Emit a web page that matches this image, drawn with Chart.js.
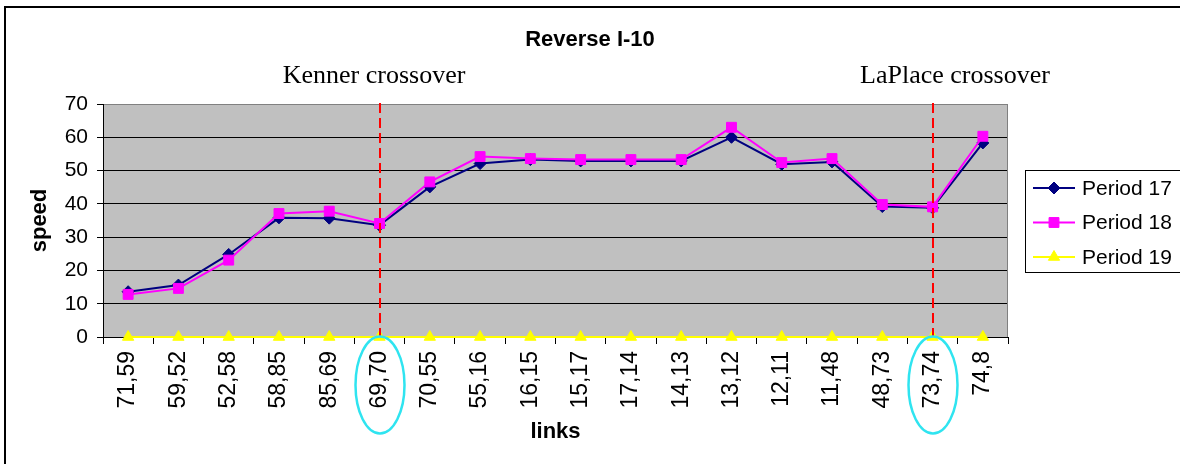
<!DOCTYPE html>
<html>
<head>
<meta charset="utf-8">
<script src="https://cdn.jsdelivr.net/npm/chart.js@4.4.1/dist/chart.umd.min.js"></script>
<style>
  html, body { margin: 0; padding: 0; background: #fff; }
  canvas { display: block; }
</style>
</head>
<body>
<canvas id="chart" width="1180" height="464"></canvas>
<script>
const links = [
  "71,59", "59,52", "52,58", "58,85", "85,69", "69,70", "70,55", "55,16", "16,15",
  "15,17", "17,14", "14,13", "13,12", "12,11", "11,48", "48,73", "73,74", "74,8"
];
const period17 = [13.6, 15.6, 24.8, 35.8, 35.7, 33.6, 45.1, 52.1, 53.3, 52.9, 52.9, 52.9, 60.0, 51.9, 52.6, 39.2, 38.8, 58.3];
const period18 = [12.8, 14.6, 23.1, 37.1, 37.8, 34.1, 46.6, 54.2, 53.6, 53.3, 53.3, 53.3, 63.0, 52.4, 53.6, 39.8, 39.1, 60.3];
const period19 = [0, 0, 0, 0, 0, 0, 0, 0, 0, 0, 0, 0, 0, 0, 0, 0, 0, 0];
const speedTicks = [0, 10, 20, 30, 40, 50, 60, 70];
const crossoverLinks = ["69,70", "73,74"];
const crossoverNames = ["Kenner crossover", "LaPlace crossover"];

Chart.defaults.font.family = "'Liberation Sans', Arial, sans-serif";
Chart.defaults.color = "#000";

// little nudges so the crossover captions sit where the original text boxes were
const captionShift = [-6, 22];

const decorations = {
  id: "decorations",
  afterLayout(chart) {
    // title is centred on the whole picture, not only the plot + axes
    const t = chart.titleBlock;
    if (t) {
      t.left = 0;
      t.right = chart.width;
      t.width = chart.width;
    }
  },
  beforeDraw(chart) {
    const { ctx, chartArea: a } = chart;
    ctx.save();
    ctx.fillStyle = "#fff";
    ctx.fillRect(0, 0, chart.width, chart.height);
    ctx.fillStyle = "#c0c0c0";
    ctx.fillRect(a.left, a.top, a.right - a.left, a.bottom - a.top);

    ctx.strokeStyle = "#000";
    ctx.lineWidth = 2;
    ctx.beginPath();
    ctx.moveTo(5, chart.height + 5);
    ctx.lineTo(5, 7);
    ctx.lineTo(chart.width + 5, 7);
    ctx.stroke();
    ctx.restore();
  },
  beforeDatasetsDraw(chart) {
    const { ctx, chartArea: a } = chart;
    ctx.save();
    ctx.strokeStyle = "#808080";
    ctx.lineWidth = 1;
    ctx.beginPath();
    ctx.moveTo(a.right - 0.5, a.top);
    ctx.lineTo(a.right - 0.5, a.bottom);
    ctx.stroke();
    ctx.restore();
  },
  afterDatasetsDraw(chart) {
    const { ctx, chartArea: a } = chart;
    const x = chart.scales.x;

    ctx.save();
    crossoverLinks.forEach((link, i) => {
      const px = Math.round(x.getPixelForValue(links.indexOf(link)));

      ctx.strokeStyle = "#ff0000";
      ctx.lineWidth = 2;
      ctx.setLineDash([10, 5]);
      ctx.beginPath();
      ctx.moveTo(px, a.top - 1);
      ctx.lineTo(px, a.bottom);
      ctx.stroke();
      ctx.setLineDash([]);

      ctx.strokeStyle = "#2fe4f0";
      ctx.lineWidth = 2.5;
      ctx.beginPath();
      ctx.ellipse(px, a.bottom + 48, 24.5, 48.5, 0, 0, Math.PI * 2);
      ctx.stroke();

      ctx.fillStyle = "#000";
      ctx.font = "26px 'Liberation Serif', 'Times New Roman', serif";
      ctx.textAlign = "center";
      ctx.textBaseline = "middle";
      ctx.fillText(crossoverNames[i], px + captionShift[i], 76);
    });

    // legend box
    const boxLeft = 1025, boxTop = 170, boxBottom = 272;
    ctx.fillStyle = "#fff";
    ctx.fillRect(boxLeft, boxTop, chart.width, boxBottom - boxTop);
    ctx.strokeStyle = "#000";
    ctx.lineWidth = 1;
    ctx.strokeRect(boxLeft + 0.5, boxTop + 0.5, chart.width, boxBottom - boxTop);

    chart.data.datasets.forEach((ds, i) => {
      const y = 188 + i * 34.5;
      ctx.strokeStyle = ds.borderColor;
      ctx.lineWidth = ds.borderWidth;
      ctx.beginPath();
      ctx.moveTo(1033, y);
      ctx.lineTo(1075, y);
      ctx.stroke();
      ctx.fillStyle = ds.pointBackgroundColor;
      ctx.strokeStyle = ds.borderColor;
      ctx.lineWidth = 1;
      Chart.helpers.drawPoint(ctx, { pointStyle: ds.pointStyle, radius: ds.pointRadius, borderWidth: 1, rotation: 0 }, 1054, y);
      ctx.fillStyle = "#000";
      ctx.font = "21px 'Liberation Sans', Arial, sans-serif";
      ctx.textAlign = "left";
      ctx.textBaseline = "middle";
      ctx.fillText(ds.label, 1082, y + 1);
    });
    ctx.restore();
  }
};

new Chart(document.getElementById("chart"), {
  type: "line",
  data: {
    labels: links,
    datasets: [
      {
        label: "Period 17",
        data: period17,
        borderColor: "#000080",
        backgroundColor: "#000080",
        pointBackgroundColor: "#000080",
        borderWidth: 2,
        pointStyle: "rectRot",
        pointRadius: 6,
        pointBorderWidth: 1,
        order: 3
      },
      {
        label: "Period 18",
        data: period18,
        borderColor: "#ff00ff",
        backgroundColor: "#ff00ff",
        pointBackgroundColor: "#ff00ff",
        borderWidth: 2,
        pointStyle: "rect",
        pointRadius: 7,
        pointBorderWidth: 1,
        order: 2
      },
      {
        label: "Period 19",
        data: period19,
        borderColor: "#ffff00",
        backgroundColor: "#ffff00",
        pointBackgroundColor: "#ffff00",
        borderWidth: 2,
        pointStyle: "triangle",
        pointRadius: 6.5,
        pointBorderWidth: 1,
        order: 1
      }
    ]
  },
  options: {
    responsive: false,
    animation: false,
    clip: false,
    layout: {
      padding: { left: 0, top: 0, right: 172, bottom: 0 }
    },
    elements: {
      line: { tension: 0 },
      point: { hoverRadius: 6 }
    },
    plugins: {
      legend: { display: false },
      tooltip: { enabled: false },
      title: {
        display: true,
        text: "Reverse I-10",
        color: "#000",
        font: { size: 22, weight: "bold" },
        padding: { top: 27, bottom: 50.6 }
      }
    },
    scales: {
      x: {
        offset: true,
        afterFit(axis) { axis.height = 127; },
        grid: {
          offset: true,
          drawOnChartArea: false,
          drawTicks: true,
          tickLength: 7,
          color: "#000"
        },
        border: { color: "#000", width: 1 },
        ticks: {
          autoSkip: false,
          minRotation: 90,
          maxRotation: 90,
          padding: 7,
          color: "#000",
          font: { size: 23 }
        },
        title: {
          display: true,
          text: "links",
          color: "#000",
          font: { size: 22, weight: "bold" },
          padding: { top: 0, bottom: 19 }
        }
      },
      y: {
        min: 0,
        max: 70,
        afterFit(axis) { axis.width = 103; },
        afterBuildTicks(axis) { axis.ticks = speedTicks.map((v) => ({ value: v })); },
        grid: {
          color: (c) => (c.tick && c.tick.value === 70 ? "#808080" : "#000"),
          tickColor: "#000",
          tickLength: 6,
          lineWidth: 1
        },
        border: { color: "#000", width: 1 },
        ticks: {
          padding: 9,
          color: "#000",
          font: { size: 21 }
        },
        title: {
          display: true,
          text: "speed",
          color: "#000",
          font: { size: 22, weight: "bold" },
          padding: { top: 27, bottom: 0 }
        }
      }
    }
  },
  plugins: [decorations]
});
</script>
</body>
</html>
